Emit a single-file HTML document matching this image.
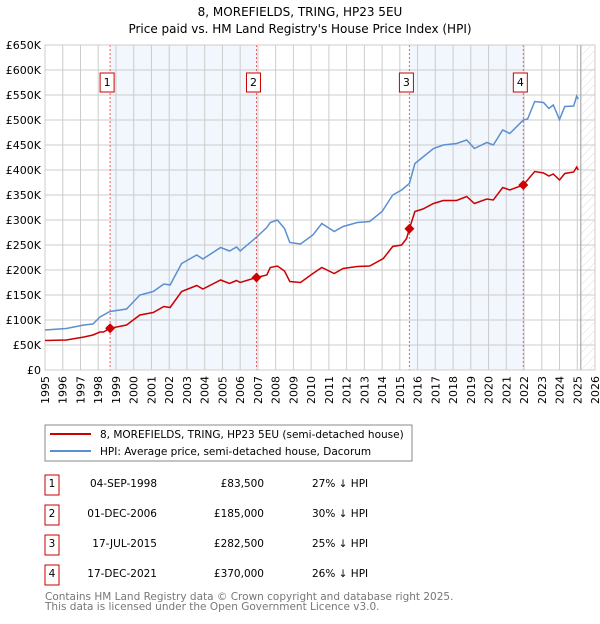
<!DOCTYPE html>
<html><head><meta charset="utf-8"><style>
body{margin:0;background:#fff;font-family:"DejaVu Sans","Liberation Sans",sans-serif;}
svg text{font-family:"DejaVu Sans","Liberation Sans",sans-serif;}
</style></head><body>
<svg id="c" width="600" height="620" viewBox="0 0 600 620" xmlns="http://www.w3.org/2000/svg">
<text x="300" y="16" text-anchor="middle" font-size="12" fill="#000">8, MOREFIELDS, TRING, HP23 5EU</text>
<text x="300" y="33" text-anchor="middle" font-size="12" fill="#000">Price paid vs. HM Land Registry's House Price Index (HPI)</text>
<g id="plot"></g>
<rect x="45" y="425" width="367" height="36" fill="#fff" stroke="#888"/>
<line x1="50" y1="434" x2="91" y2="434" stroke="#cc0000" stroke-width="2"/>
<text x="100" y="438" font-size="10.5">8, MOREFIELDS, TRING, HP23 5EU (semi-detached house)</text>
<line x1="50" y1="451" x2="91" y2="451" stroke="#5b8fd0" stroke-width="2"/>
<text x="100" y="455" font-size="10.5">HPI: Average price, semi-detached house, Dacorum</text>
<g id="table" font-size="10.5"></g>
<text x="45" y="600" font-size="10.5" fill="#777">Contains HM Land Registry data © Crown copyright and database right 2025.</text>
<text x="45" y="610" font-size="10.5" fill="#777">This data is licensed under the Open Government Licence v3.0.</text>
</svg>
<script>
const hpiYears=[1995.0,1996.2,1997.2,1997.7,1998.1,1998.66,1999.6,2000.35,2001.1,2001.7,2002.05,2002.7,2003.55,2003.9,2004.9,2005.4,2005.8,2006.0,2006.9,2007.5,2007.7,2008.1,2008.5,2008.8,2009.4,2010.1,2010.6,2011.3,2011.8,2012.6,2013.3,2014.0,2014.6,2015.1,2015.54,2015.85,2016.2,2016.9,2017.45,2018.2,2018.77,2019.2,2019.9,2020.27,2020.8,2021.2,2021.96,2022.2,2022.6,2023.1,2023.4,2023.65,2024.0,2024.3,2024.8,2024.97,2025.06];
const hpiValues=[80,83,90,92,106,117,122,150,157,172,170,213,230,222,245,238,246,238,265,285,295,300,283,255,252,270,293,277,287,295,297,317,350,360,373,413,423,443,450,453,460,443,455,450,480,473,500,502,537,535,523,530,501,527,528,548,542];
const ppYears=[1995.0,1996.2,1997.2,1997.7,1998.1,1998.3,1998.66,1999.6,2000.35,2001.1,2001.7,2002.05,2002.7,2003.55,2003.9,2004.9,2005.4,2005.8,2006.0,2006.92,2007.5,2007.7,2008.1,2008.5,2008.8,2009.4,2010.1,2010.6,2011.3,2011.8,2012.6,2013.3,2014.07,2014.6,2015.1,2015.38,2015.54,2015.85,2016.3,2016.9,2017.45,2018.2,2018.77,2019.2,2019.9,2020.27,2020.8,2021.2,2021.96,2022.6,2023.1,2023.4,2023.65,2024.0,2024.3,2024.8,2024.97,2025.06];
const ppValues=[59,60,66,70,76,76,83.5,90,110,115,127,125,157,169,162,180,173,179,175,185,190,205,208,198,177,175,193,205,193,203,207,208,223,247,250,263,282.5,317,322,333,339,339,347,333,342,340,365,360,370,397,394,388,392,380,393,396,406,400];
const saleLabels=["1","2","3","4"];
const saleYears=[1998.67,2006.92,2015.54,2021.96];
const saleValues=[83.5,185,282.5,370];
const saleDates=["04-SEP-1998","01-DEC-2006","17-JUL-2015","17-DEC-2021"];
const salePrices=["£83,500","£185,000","£282,500","£370,000"];
const saleDiffs=["27% ↓ HPI","30% ↓ HPI","25% ↓ HPI","26% ↓ HPI"];
const yTicks=[0,50,100,150,200,250,300,350,400,450,500,550,600,650];
const yTickLabels=["£0","£50K","£100K","£150K","£200K","£250K","£300K","£350K","£400K","£450K","£500K","£550K","£600K","£650K"];
const xTicks=[1995,1996,1997,1998,1999,2000,2001,2002,2003,2004,2005,2006,2007,2008,2009,2010,2011,2012,2013,2014,2015,2016,2017,2018,2019,2020,2021,2022,2023,2024,2025,2026];
const dataEnd=2025.2;

const X0=45,X1=595,Y0=370,Y1=45;
const xs=y=>X0+(y-1995)/(2026-1995)*(X1-X0);
const ys=v=>Y0-v/650*(Y0-Y1);
const NS="http://www.w3.org/2000/svg";
const plot=document.getElementById('plot');
function mk(tag,attrs,parent){const e=document.createElementNS(NS,tag);for(const k in attrs)e.setAttribute(k,attrs[k]);(parent||plot).appendChild(e);return e;}

let e=mk('rect',{x:X0,y:Y1,width:X1-X0,height:Y0-Y1,fill:'#fff'});


[[0,1],[2,3]].forEach(p=>{
  const r=mk('rect',{x:xs(saleYears[p[0]]),y:Y1,width:xs(saleYears[p[1]])-xs(saleYears[p[0]]),height:Y0-Y1,fill:'#f2f6fd'});
  
  
});
const defs=mk('defs',{});
const pat=mk('pattern',{id:'hatch',width:6,height:6,patternUnits:'userSpaceOnUse',patternTransform:'rotate(45)'},defs);
mk('line',{x1:0,y1:0,x2:0,y2:6,stroke:'#d4d4d4','stroke-width':0.8},pat);
e=mk('rect',{x:xs(dataEnd),y:Y1,width:X1-xs(dataEnd),height:Y0-Y1,fill:'url(#hatch)'});


yTicks.forEach((v,i)=>{
  const l=mk('line',{x1:X0,x2:X1,y1:ys(v),y2:ys(v),stroke:'#ccc','stroke-width':1});
  
  
  const t=mk('text',{x:X0-4,y:ys(v)+4,'text-anchor':'end','font-size':11});
  t.textContent=yTickLabels[i];
  
  
});
xTicks.forEach(y=>{
  const l=mk('line',{x1:xs(y),x2:xs(y),y1:Y1,y2:Y0,stroke:'#ccc','stroke-width':1});
  
  
  const t=mk('text',{x:0,y:0,'font-size':11,'text-anchor':'end',transform:`translate(${xs(y)+4},376) rotate(-90)`});
  t.textContent=y;
  
  
});
e=mk('line',{x1:xs(dataEnd),x2:xs(dataEnd),y1:Y1,y2:Y0,stroke:'#999','stroke-width':1});


saleYears.forEach((y,i)=>{
  const l=mk('line',{x1:xs(y),x2:xs(y),y1:Y1,y2:Y0,stroke:'#f06060','stroke-width':1,'stroke-dasharray':'2,2'});
  
  
  const r=mk('rect',{x:xs(y)-10,y:73,width:14,height:19,fill:'#fff',stroke:'#cc0000'});
  
  
  const t=mk('text',{x:xs(y)-3,y:86,'text-anchor':'middle','font-size':11});
  t.textContent=saleLabels[i];
  
  
});
e=mk('rect',{x:X0,y:Y1,width:X1-X0,height:Y0-Y1,fill:'none',stroke:'#ccc'});


e=mk('path',{d:hpiYears.map((y,i)=>(i?'L':'M')+xs(y).toFixed(1)+','+ys(hpiValues[i]).toFixed(1)).join(''),fill:'none',stroke:'#5b8fd0','stroke-width':1.5});


e=mk('path',{d:ppYears.map((y,i)=>(i?'L':'M')+xs(y).toFixed(1)+','+ys(ppValues[i]).toFixed(1)).join(''),fill:'none',stroke:'#cc0000','stroke-width':1.5});


saleYears.forEach((y,i)=>{
  const cx=xs(y),cy=ys(saleValues[i]);
  const d=mk('path',{d:`M${cx-5},${cy}L${cx},${cy-5}L${cx+5},${cy}L${cx},${cy+5}Z`,fill:'#cc0000'});
  
  
});
const tb=document.getElementById('table');
saleLabels.forEach((s,i)=>{
  const cy=485+i*30;
  const r=mk('rect',{x:45,y:cy-10,width:14,height:20,fill:'#fff',stroke:'#cc0000'},tb);
  
  
  const cells=[[52,'middle',s,'table-row-number'],[157,'end',saleDates[i],'table-row-date'],[264,'end',salePrices[i],'table-row-price'],[312,'start',saleDiffs[i],'table-row-hpi-diff']];
  cells.forEach(c=>{
    const t=mk('text',{x:c[0],y:cy+2,'text-anchor':c[1]},tb);
    t.textContent=c[2];
    
    
  });
});
</script>
</body></html>
